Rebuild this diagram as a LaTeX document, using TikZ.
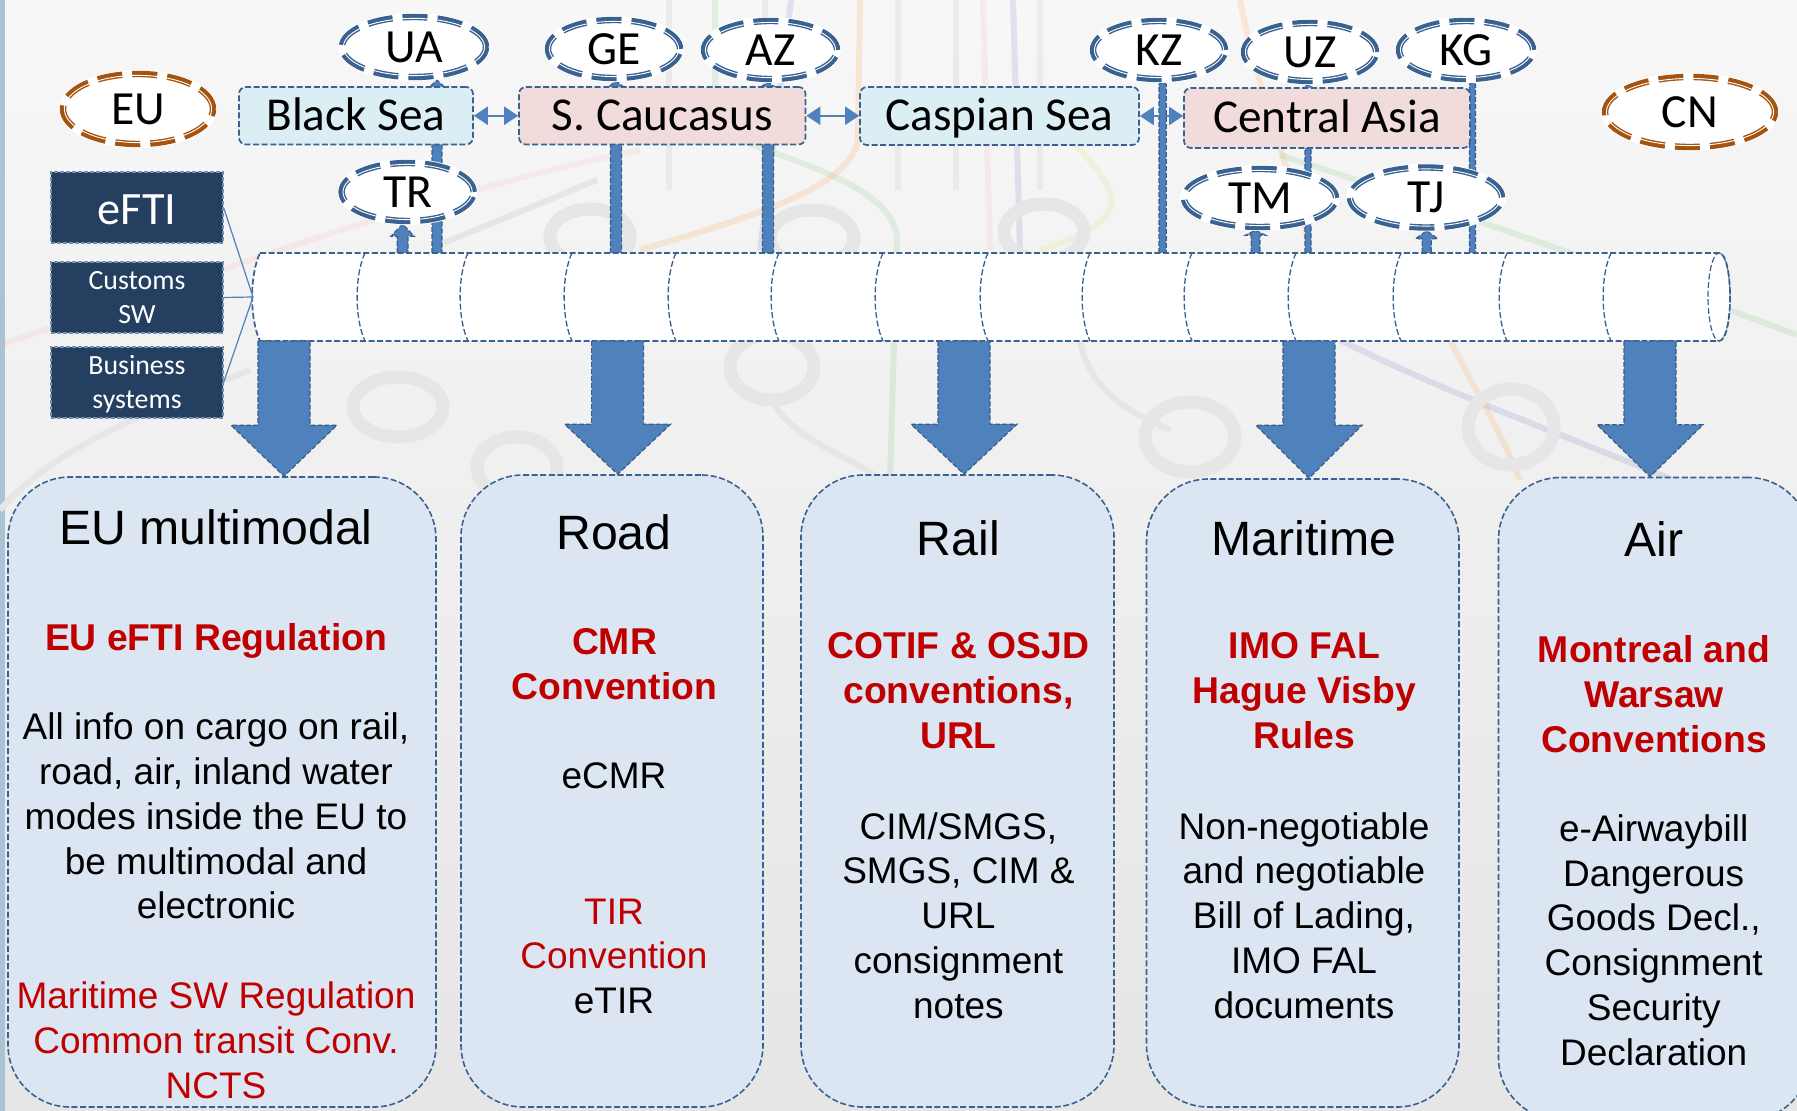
\documentclass[tikz,border=0pt]{standalone}
\usepackage{fontspec}
\setmainfont{Liberation Sans}
\newfontfamily\calfont{Carlito}
\usetikzlibrary{shapes.geometric,arrows.meta,calc}
\pgfdeclarelayer{bgl}
\pgfdeclarelayer{conn}
\pgfsetlayers{bgl,conn,main}
\definecolor{boxline}{HTML}{3A6291}
\definecolor{blockfill}{HTML}{4F81BD}
\definecolor{blockline}{HTML}{385D8A}
\definecolor{seablue}{HTML}{DBEEF4}
\definecolor{landpink}{HTML}{F2DCDB}
\definecolor{navy}{HTML}{243F60}
\definecolor{cardfill}{HTML}{DCE6F2}
\definecolor{redtxt}{HTML}{C00000}
\definecolor{ctryblue}{HTML}{3A6291}
\definecolor{ctrybrown}{HTML}{A5540F}
\definecolor{metro}{HTML}{E6E6E6}
\definecolor{stripe}{HTML}{A9C4D4}
\tikzset{
  x=0.5pt,y=-0.5pt,
  dashline/.style={draw=boxline,line width=0.85pt,dash pattern=on 3pt off 1.3pt},
  ctry/.style={ellipse,inner sep=0pt,fill=white,
    preaction={draw=white,line width=4pt,solid},
    line width=3.2pt,dash pattern=on 12.5pt off 5pt,
    font=\calfont\fontsize{23.8}{26}\selectfont},
  regionbox/.style={rectangle,dashline,rounded corners=3.5pt,inner sep=0pt,
    text height=17pt,text depth=2.5pt,
    font=\calfont\fontsize{23.6}{28}\selectfont},
  navybox/.style={rectangle,fill=navy,draw=boxline!70!white,line width=0.6pt,dash pattern=on 2pt off 1pt,
    inner sep=0pt,text=white,align=center},
  cardbox/.style={rectangle,dashline,fill=cardfill,rounded corners=31pt,inner sep=0pt,line width=0.8pt},
  blockarr/.style={fill=blockfill,draw=blockline,line width=0.6pt,dash pattern=on 2.4pt off 1.1pt},
  dbl/.style={{Triangle[length=7pt,width=9pt]}-{Triangle[length=7pt,width=9pt]},draw=blockfill,fill=blockfill,line width=1.1pt},
  wire/.style={draw=blockfill,line width=0.6pt},
  title/.style={font=\fontsize{24.1}{28}\selectfont,inner sep=0pt},
  body/.style={font=\fontsize{18.5}{22.4}\selectfont,align=center,inner sep=0pt},
  boldred/.style={body,font=\fontsize{18.65}{22.4}\selectfont\bfseries,text=redtxt},
  plainred/.style={body,text=redtxt},
  metroline/.style={draw=metro,line width=3pt},
  metroring/.style={draw=metro,line width=6.5pt},
  pale/.style={line width=3pt,opacity=.13}
}
% name, cx, cy, rx, ry, label, colour
\newcommand{\ctrynode}[7]{%
  \node[ctry,draw=#7,minimum width={(#4-3)*1pt},minimum height={(#5-3)*1pt}] (#1) at (#2,#3) {#6};
  \draw[white,line width=0.45pt] (#1.center) ellipse [x radius=#4-4.4,y radius=#5-4.4];
}
% style, name, x1, y1, x2, y2, text
\newcommand{\boxnode}[7]{%
  \node[#1,minimum width={(#5-#3)*0.5pt},minimum height={(#6-#4)*0.5pt}] (#2) at ({(#3+#5)/2},{(#4+#6)/2}) {#7};
}
% from, to, shaft half (pt), head half (pt), head length signed (pt)
\newcommand{\blockv}[5]{%
  \draw[blockarr] let \p1=(#1),\p2=(#2) in
    (\x1-#3pt,\y1) -- (\x1-#3pt,\y2+#5pt) -- (\x1-#4pt,\y2+#5pt) -- (\x1,\y2)
    -- (\x1+#4pt,\y2+#5pt) -- (\x1+#3pt,\y2+#5pt) -- (\x1+#3pt,\y1) -- cycle;
}
\newcommand{\navytop}{\rule{0pt}{13pt}}
\newcommand{\navybot}{\rule[-3.9pt]{0pt}{3.9pt}}
\begin{document}
\begin{tikzpicture}
\useasboundingbox (0,0) rectangle (1797,1111);
\begin{pgfonlayer}{bgl}
  \shade[top color=white!97!black,bottom color=white!90!black] (0,0) rectangle (1797,1111);
  \fill[stripe] (0,0) rectangle (5,1111);
  % faint metro map
  \draw[pale,draw=pink!80!red] (0,345) .. controls (200,280) and (400,200) .. (640,150);
  \draw[pale,draw=green!40!gray] (1280,155) .. controls (1450,210) and (1650,280) .. (1797,335);
  \draw[pale,draw=green!40!gray] (715,0) -- (715,120) .. controls (720,150) and (895,170) .. (897,240) -- (890,480);
  \draw[pale,draw=orange] (860,0) -- (858,140) .. controls (850,190) and (740,220) .. (640,250);
  \draw[pale,draw=pink!80!red] (983,0) -- (990,250);
  \draw[pale,draw=blue!40!gray] (1013,0) -- (1020,250);
  \draw[pale,draw=blue!40!gray] (791,0) -- (760,250);
  \draw[pale,draw=orange] (1240,0) .. controls (1260,100) and (1300,200) .. (1310,250);
  \draw[pale,draw=orange] (1450,340) .. controls (1480,400) and (1500,430) .. (1520,480);
  \draw[pale,draw=blue!40!gray] (1340,340) .. controls (1500,420) and (1700,480) .. (1797,540);
  \draw[pale,draw=yellow!70!gray] (1070,140) .. controls (1120,190) and (1140,220) .. (1040,250);
  \foreach \vx in {669,765,898,956,1040}{\draw[metroline,opacity=.7] (\vx,0) -- (\vx,190);}
  \draw[metroline] (444,243) -- (597,180);
  \draw[metroline] (0,510) .. controls (60,440) and (180,400) .. (250,370);
  \draw[metroline] (772,400) .. controls (790,440) and (860,460) .. (880,480);
  \draw[metroline] (1080,340) .. controls (1090,400) and (1150,420) .. (1170,430);
  \draw[metroring] (398,407) ellipse [x radius=45,y radius=30];
  \draw[metroring] (590,237) ellipse [x radius=40,y radius=28];
  \draw[metroring] (812,238) ellipse [x radius=42,y radius=28];
  \draw[metroring] (1044,232) ellipse [x radius=40,y radius=28];
  \draw[metroring] (772,367) ellipse [x radius=42,y radius=33];
  \draw[metroring] (1190,437) ellipse [x radius=45,y radius=35];
  \draw[metroring] (1511,427) ellipse [x radius=43,y radius=38];
  \draw[metroring] (517,467) ellipse [x radius=40,y radius=30];
\end{pgfonlayer}

% country ellipses
\ctrynode{eu}{138}{109}{78}{38}{EU}{ctrybrown}
\ctrynode{cn}{1690}{112}{88}{38}{CN}{ctrybrown}
\ctrynode{ua}{414}{47}{75}{33}{UA}{ctryblue}
\ctrynode{tr}{407.6}{192}{69}{32}{TR}{ctryblue}
\ctrynode{ge}{614}{49}{69}{32}{GE}{ctryblue}
\ctrynode{az}{770.5}{50}{69.5}{32}{AZ}{ctryblue}
\ctrynode{kz}{1159}{50}{69}{32}{KZ}{ctryblue}
\ctrynode{uz}{1310}{52}{69}{32}{UZ}{ctryblue}
\ctrynode{kg}{1466}{50}{70}{32}{KG}{ctryblue}
\ctrynode{tm}{1260}{198}{79}{32}{TM}{ctryblue}
\ctrynode{tj}{1426}{197.5}{79}{33}{TJ}{ctryblue}

% regional boxes
\boxnode{regionbox,fill=seablue}{bs}{239}{87}{473}{144.5}{Black Sea}
\boxnode{regionbox,fill=landpink}{sc}{519}{87}{805.5}{144.5}{S. Caucasus}
\boxnode{regionbox,fill=seablue}{cs}{860}{87}{1139}{145}{Caspian Sea}
\boxnode{regionbox,fill=landpink}{ca}{1184}{88}{1470}{148}{Central Asia}

% data sources
\boxnode{navybox,text height=18pt,text depth=0.8pt,font=\calfont\fontsize{23.2}{28}\selectfont}{efti}{51}{172}{223}{243}{eFTI}
\boxnode{navybox,font=\calfont\fontsize{13.9}{16.6}\selectfont}{cust}{51}{262}{223}{333}{\navytop Customs\\SW\navybot}
\boxnode{navybox,font=\calfont\fontsize{13.9}{16.6}\selectfont}{busi}{51}{347}{223}{418}{\navytop Business\\systems\navybot}

% pipeline
\node[minimum width=738.5pt,minimum height=44pt,inner sep=0pt,outer sep=0pt] (pipe) at (991.5,297) {};
\draw[dashline,fill=white] (260,253) -- (1719,253) .. controls (1733.7,253) and (1733.7,341) .. (1719,341) -- (260,341)
   .. controls (249.5,319) and (249.5,275) .. (260,253) -- cycle;
\foreach \sx in {365,468,572,676,779,883,988,1090,1192,1296,1401,1507,1611}{
  \draw[dashline,line width=0.65pt] (\sx,253) .. controls (\sx-10.5,275) and (\sx-10.5,319) .. (\sx,341);
}
\draw[dashline,line width=0.6pt] (1719,297) ellipse [x radius=11,y radius=44];

% cards
\boxnode{cardbox}{c1}{8}{477}{436}{1107}{}
\boxnode{cardbox}{c2}{461}{475}{763}{1107}{}
\boxnode{cardbox}{c3}{801}{475}{1114}{1107}{}
\boxnode{cardbox}{c4}{1146.5}{479}{1459}{1107}{}
\boxnode{cardbox}{c5}{1498.5}{477.5}{1810}{1120}{}

% card texts
\node[title] (t1) at (216,527.5) {EU multimodal};
\node[boldred] (b1) at (216,640.7) {EU eFTI Regulation};
\node[body] (p1) at (216,816) {All info on cargo on rail,\\road, air, inland water\\modes inside the EU to\\be multimodal and\\electronic};
\node[plainred] (r1) at (216,1040) {Maritime SW Regulation\\Common transit Conv.\\NCTS};

\node[title] (t2) at (614,532.5) {Road};
\node[boldred] (b2) at (614.5,664.5) {CMR\\Convention};
\node[body] (p2) at (614,776) {eCMR};
\node[plainred] (r2) at (614,934) {TIR\\Convention};
\node[body] (e2) at (614,1000.5) {eTIR};

\node[title] (t3) at (958.4,538) {Rail};
\node[boldred] (b3) at (958.4,690.5) {COTIF \& OSJD\\conventions,\\URL};
\node[body] (p3) at (958.4,915.5) {CIM/SMGS,\\SMGS, CIM \&\\URL\\consignment\\notes};

\node[title] (t4) at (1304,538) {Maritime};
\node[boldred] (b4) at (1304.5,690.5) {IMO FAL\\Hague Visby\\Rules};
\node[body] (p4) at (1304,915.5) {Non-negotiable\\and negotiable\\Bill of Lading,\\IMO FAL\\documents};

\node[title] (t5) at (1653.7,539.5) {Air};
\node[boldred] (b5) at (1654,694) {Montreal and\\Warsaw\\Conventions};
\node[body] (p5) at (1653.7,940) {e-Airwaybill\\Dangerous\\Goods Decl.,\\Consignment\\Security\\Declaration};

% connectors
\coordinate (xua) at (437,200);
\coordinate (xtr) at (402.6,200);
\coordinate (xge) at (616,200);
\coordinate (xaz) at (768,200);
\coordinate (xkz) at (1162.6,200);
\coordinate (xuz) at (1308,200);
\coordinate (xkg) at (1472.4,200);
\coordinate (xtm) at (1255.5,200);
\coordinate (xtj) at (1426.7,200);
\coordinate (d1) at (284,400);
\coordinate (d2) at (617.6,400);
\coordinate (d3) at (964,400);
\coordinate (d4) at (1309,400);
\coordinate (d5) at (1650,400);
\begin{pgfonlayer}{conn}
  \blockv{xua|-pipe.north}{xua|-ua.south}{2.5}{5.5}{-5}
  \blockv{xtr|-pipe.north}{xtr|-tr.south}{2.7}{5.8}{-6}
  \blockv{xge|-pipe.north}{xge|-ge.south}{2.8}{5.5}{-4}
  \blockv{xaz|-pipe.north}{xaz|-az.south}{2.8}{6}{-4}
  \blockv{xkz|-pipe.north}{xkz|-kz.south}{1.8}{1.8}{-1}
  \blockv{xuz|-pipe.north}{xuz|-uz.south}{1.5}{4}{-3}
  \blockv{xkg|-pipe.north}{xkg|-kg.south}{1.5}{1.5}{-1}
  \blockv{xtm|-pipe.north}{xtm|-tm.south}{2.2}{5}{-2.5}
  \blockv{xtj|-pipe.north}{xtj|-tj.south}{2.3}{5.5}{-4}
  \draw[dbl] (bs.east) -- (bs.east-|sc.west);
  \draw[dbl] (sc.east) -- (sc.east-|cs.west);
  \draw[dbl] (cs.east) -- (cs.east-|ca.west);
\end{pgfonlayer}
\draw[wire] (efti.east) -- (pipe.west);
\draw[wire] (cust.east) -- (pipe.west);
\draw[wire] (busi.east) -- (pipe.west);
\blockv{d1|-pipe.south}{d1|-c1.north}{13}{26.5}{25.5}
\blockv{d2|-pipe.south}{d2|-c2.north}{13}{26.5}{25}
\blockv{d3|-pipe.south}{d3|-c3.north}{13}{26.5}{25}
\blockv{d4|-pipe.south}{d4|-c4.north}{13}{26.5}{26.5}
\blockv{d5|-pipe.south}{d5|-c5.north}{13}{26.5}{26}
\end{tikzpicture}
\end{document}
